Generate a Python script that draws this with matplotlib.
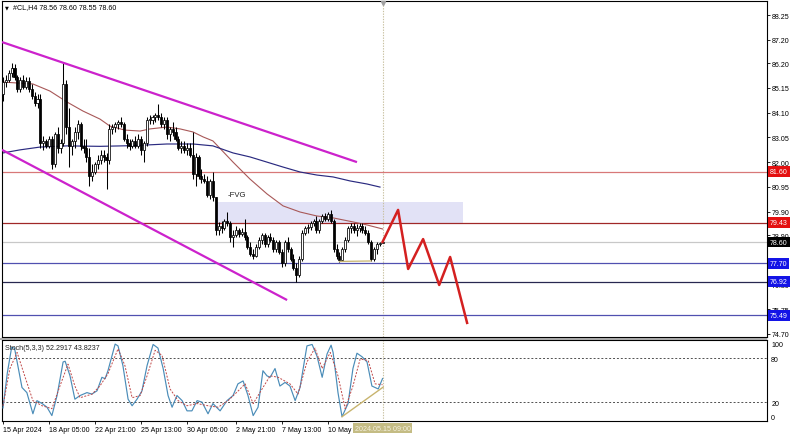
"""#CL H4 차트 재현 — 캔들 + 채널 + 스토캐스틱."""
import matplotlib
matplotlib.use("Agg")
import matplotlib.pyplot as plt
import matplotlib.transforms as mtrans
from matplotlib.patches import Rectangle
import numpy as np

plt.rcParams['font.family'] = ['Liberation Sans', 'DejaVu Sans']

# ── 데이터 (H4 캔들, 15 Apr 13:00 ~ 15 May 09:00) ─────────────
opens = [84.9, 85.4, 85.5, 85.8, 86.0, 85.6, 85.1, 85.5, 85.2, 85.45,
         85.1, 84.8, 84.5, 84.7, 82.8, 82.9, 82.7, 83.0, 81.9, 83.2,
         82.6, 82.8, 85.3, 83.5, 82.7, 82.9, 83.3, 83.6, 82.7, 82.6,
         82.2, 81.4, 81.6, 81.9, 82.1, 82.3, 82.2, 82.1, 83.4, 83.5,
         83.6, 83.7, 83.6, 83.0, 82.8, 82.7, 82.9, 82.7, 83.0, 82.5,
         82.8, 83.8, 83.8, 83.9, 84.0, 83.9, 83.6, 83.8, 83.2, 83.4,
         83.3, 83.0, 82.6, 82.7, 82.5, 82.6, 82.3, 81.5, 82.2, 81.4,
         81.3, 81.2, 80.6, 81.2, 80.5, 79.1, 79.3, 79.2, 79.5, 79.4,
         78.8, 78.9, 79.1, 78.95, 79.05, 78.8, 78.4, 78.1, 78.0, 78.4,
         78.7, 78.9, 78.5, 78.8, 78.7, 78.3, 78.6, 78.2, 77.7, 78.6,
         78.3, 77.9, 77.5, 77.2, 77.9, 79.0, 79.2, 79.25, 79.4, 79.5,
         79.1, 79.5, 79.7, 79.6, 79.8, 79.5, 78.3, 78.0, 77.85, 78.3,
         78.7, 79.2, 79.3, 79.1, 79.2, 79.3, 79.1, 79.0, 78.6, 77.9,
         78.3, 78.5, 78.56]
highs = [85.6, 85.7, 85.9, 86.2, 86.15, 85.7, 85.6, 85.7, 85.6, 85.6,
         85.3, 85.0, 84.9, 84.9, 83.1, 83.0, 83.1, 83.1, 83.3, 83.5,
         83.0, 86.25, 85.5, 84.3, 83.0, 83.5, 83.8, 83.7, 83.0, 83.0,
         82.6, 81.9, 82.0, 82.3, 82.5, 82.5, 82.4, 83.6, 83.6, 83.7,
         83.8, 83.9, 83.7, 83.2, 83.0, 83.0, 83.1, 83.2, 83.1, 82.9,
         83.9, 84.0, 84.0, 84.1, 84.45, 84.1, 83.9, 83.9, 83.5, 83.7,
         83.5, 83.1, 82.9, 82.9, 82.8, 82.8, 83.3, 82.4, 82.3, 81.7,
         81.5, 81.4, 81.3, 81.6, 80.5, 79.45, 79.5, 79.6, 79.9, 79.5,
         79.1, 79.3, 79.2, 79.2, 79.6, 78.9, 78.6, 78.3, 78.5, 78.8,
         79.0, 79.0, 78.9, 79.0, 78.8, 78.7, 78.7, 78.3, 78.7, 78.8,
         78.4, 78.1, 77.7, 78.0, 79.1, 79.3, 79.35, 79.5, 79.6, 79.7,
         79.6, 79.8, 79.85, 79.9, 79.95, 79.6, 78.5, 78.2, 78.4, 78.8,
         79.3, 79.4, 79.4, 79.35, 79.4, 79.4, 79.3, 79.1, 78.7, 78.4,
         78.6, 78.6, 78.60]
lows = [84.6, 85.2, 85.4, 85.6, 85.5, 85.0, 85.0, 85.1, 85.1, 85.0,
        84.7, 84.4, 84.3, 82.6, 82.5, 82.6, 82.6, 81.7, 81.8, 82.4,
        82.4, 82.7, 83.2, 81.8, 82.3, 82.6, 83.0, 82.5, 82.4, 82.0,
        81.0, 81.2, 81.5, 81.7, 81.9, 82.0, 80.85, 81.9, 83.2, 83.3,
        83.4, 83.5, 82.9, 82.6, 82.5, 82.6, 82.6, 82.6, 82.3, 82.0,
        82.7, 83.6, 83.6, 83.7, 83.8, 83.5, 83.4, 83.0, 82.9, 83.1,
        82.9, 82.5, 82.4, 82.4, 82.3, 82.2, 81.3, 81.0, 81.3, 81.1,
        81.1, 80.5, 80.45, 80.35, 78.9, 78.9, 79.0, 79.1, 79.3, 78.6,
        78.4, 78.8, 78.8, 78.85, 78.7, 78.3, 78.0, 77.9, 77.95, 78.3,
        78.5, 78.4, 78.4, 78.6, 78.2, 78.2, 78.1, 77.55, 77.6, 78.2,
        77.8, 77.4, 76.9, 77.1, 77.8, 78.9, 79.0, 79.1, 79.3, 79.0,
        79.0, 79.4, 79.5, 79.5, 79.4, 78.2, 77.9, 77.75, 77.8, 78.2,
        78.6, 79.0, 79.0, 78.85, 79.05, 79.0, 78.9, 78.5, 77.8, 77.8,
        78.1, 78.45, 78.55]
closes = [85.4, 85.5, 85.8, 86.0, 85.6, 85.1, 85.5, 85.2, 85.45, 85.1,
          84.8, 84.5, 84.7, 82.8, 82.9, 82.7, 83.0, 81.9, 83.2, 82.6,
          82.8, 85.3, 83.5, 82.7, 82.9, 83.3, 83.6, 82.7, 82.6, 82.2,
          81.4, 81.6, 81.9, 82.1, 82.3, 82.2, 82.1, 83.4, 83.5, 83.6,
          83.7, 83.6, 83.0, 82.8, 82.7, 82.9, 82.7, 83.0, 82.5, 82.8,
          83.8, 83.8, 83.9, 84.0, 83.9, 83.6, 83.8, 83.2, 83.4, 83.3,
          83.0, 82.6, 82.7, 82.5, 82.6, 82.3, 81.5, 82.2, 81.4, 81.3,
          81.2, 80.6, 81.2, 80.5, 79.1, 79.3, 79.2, 79.5, 79.4, 78.8,
          78.9, 79.1, 78.95, 79.05, 78.8, 78.4, 78.1, 78.0, 78.4, 78.7,
          78.9, 78.5, 78.8, 78.7, 78.3, 78.6, 78.2, 77.7, 78.6, 78.3,
          77.9, 77.5, 77.2, 77.9, 79.0, 79.2, 79.25, 79.4, 79.5, 79.1,
          79.5, 79.7, 79.6, 79.8, 79.5, 78.3, 78.0, 77.85, 78.3, 78.7,
          79.2, 79.3, 79.1, 79.2, 79.3, 79.1, 79.0, 78.6, 77.9, 78.3,
          78.5, 78.56, 78.60]

# 이동평균선 (그림에서 읽은 점: 봉 인덱스, 가격)
ma_fast_x = [0, 10.4, 16.3, 22.3, 27.8, 33.7, 37.2, 42.4, 47.7, 51.1, 57, 61.6, 66.1,
             69.6, 73, 80, 85.9, 91.8, 97.4, 103.3, 109.2, 114.8, 121.7, 126.6, 132]
ma_fast_y = [85.40, 85.32, 85.02, 84.55, 84.17, 83.83, 83.53, 83.36, 83.32, 83.41, 83.49,
             83.41, 83.28, 83.07, 82.90, 82.0, 81.28, 80.65, 80.14, 79.88, 79.71, 79.63,
             79.46, 79.33, 79.16]
ma_slow_x = [0, 5.9, 12.9, 22.3, 33.7, 45.2, 57, 66.1, 73, 80, 85.9, 91.8, 97.4, 103.3,
             109.2, 114.8, 120.7, 126.6, 131.1]
ma_slow_y = [82.39, 82.52, 82.64, 82.69, 82.67, 82.70, 82.77, 82.77, 82.69, 82.39, 82.22,
             82.0, 81.79, 81.58, 81.45, 81.37, 81.20, 81.07, 80.94]

# 채널, 수평선, 예상 경로
chan_upper = ([-0.35, 123.1], [87.10, 82.00])
chan_lower = ([-0.35, 98.8], [82.52, 76.14])
levels = [81.60, 79.43, 78.60, 77.70, 76.92, 75.49]
level_line_colors = ['#d87878', '#a02828', '#c8c8c8', '#5050b0', '#282850', '#5050b0']
level_tag_colors = ['#e41010', '#e41010', '#000000', '#1414e6', '#1414e6', '#1414e6']
path_x = [132, 137.4, 140.9, 146.1, 151.7, 155.5, 161.4]
path_y = [78.61, 79.97, 77.46, 78.73, 76.78, 77.97, 75.17]
fvg_x = (74, 160)
fvg_y = (79.41, 80.30)

price_ticks = [88.25, 87.20, 86.20, 85.15, 84.10, 83.05, 82.00, 80.95, 79.90,
               78.90, 77.85, 76.80, 75.75, 74.70]

# 스토캐스틱 (5,3,3)
stoch_k_x = [0, 1.5, 3, 4, 6.6, 8.3, 10.4, 11.8, 13.6, 15.3, 17, 18.8, 20.9, 21.6, 23.3,
             25, 26.8, 29.2, 30.9, 32.7, 34.4, 35.5, 36.5, 39, 40, 41.7, 43.5, 44.9, 46.6,
             48.3, 50.1, 52.2, 53.9, 55.7, 57.4, 58.8, 60.5, 62.3, 64, 65.7, 67.5, 69.2,
             71.3, 73, 75.5, 77.9, 80, 81.7, 83.5, 85.2, 87, 88.7, 90.4, 91.8, 92.9, 94.6,
             96.3, 98.1, 99.8, 101.6, 103.3, 105.7, 107.5, 109.2, 111, 112.7, 114.1, 114.8,
             116.5, 117.9, 120, 121.7, 123.1, 124.9, 126.6, 128.3, 130.5, 132]
stoch_k_y = [12, 60, 95, 94, 40, 33, 4, 22, 18, 13, 1.5, 29, 75, 76, 56,
             24, 29, 33, 31, 35.5, 54, 52, 63, 99.5, 97, 70, 24, 15, 24,
             35, 70, 99, 94, 66, 29, 13, 29, 22, 8, 8, 22, 20,
             4, 18, 8, 22, 29, 45, 49, 29, 1.5, 13, 63, 56, 54, 66,
             42, 47, 42, 22, 40, 97, 99, 83, 54, 86, 98, 88,
             33, 0, 18, 66, 87, 82, 75, 42, 38, 52.29]
stoch_d_x = [0, 2.4, 4.9, 7.7, 10.4, 13.6, 17, 19.8, 22.6, 25, 26.8, 31, 33.7, 36.5, 40,
             42.4, 44.9, 47.7, 50.1, 52.9, 55.3, 58.1, 60.9, 64, 67.5, 71.3, 74.8, 78.3,
             81.7, 84.2, 87, 90.1, 92.9, 95.7, 99.8, 102.6, 105.7, 108.5, 111, 113.8,
             116.5, 119, 121.7, 124.2, 127, 129.4, 132]
stoch_d_y = [15, 66, 88, 54, 22, 15, 11, 42, 72, 42, 26, 31, 42, 59, 93,
             70, 26, 29, 56, 91, 84, 38, 22, 15, 18, 15, 13, 22,
             35, 45, 18, 38, 56, 54, 45, 31, 75, 94, 66, 88,
             56, 11, 42, 79, 77, 45, 43.82]
div_stoch = ([117.9, 132.2], [0, 40.5])
div_price = ([117, 128], [77.78, 77.80])

date_idx = [0, 16, 32, 48, 64, 81, 97, 113]
date_labels = ['15 Apr 2024', '18 Apr 05:00', '22 Apr 21:00', '25 Apr 13:00',
               '30 Apr 05:00', '2 May 21:00', '7 May 13:00', '10 May 05:00']
cursor_idx = 132
cursor_label = '2024.05.15 09:00'

# ── Figure ──────────────────────────────────────────────────
W, H = 800, 439
fig = plt.figure(figsize=(W / 100, H / 100), dpi=100)
ax = fig.add_axes([2 / W, 1 - 338 / H, 765 / W, 336 / H])
ax2 = fig.add_axes([2 / W, 1 - 422 / H, 765 / W, 81 / H])
fs = 5.1
xlim = (-0.35, 265.7)

# 캔들
idx = np.arange(len(closes))
o = np.array(opens); c = np.array(closes)
ax.vlines(idx, lows, highs, color='black', linewidth=0.75, zorder=3)
bull = c >= o
body_h = np.maximum(np.abs(c - o), 0.02)
ax.bar(idx, body_h, bottom=np.minimum(o, c), width=0.72,
       color=np.where(bull, 'white', 'black'), edgecolor='black', linewidth=0.55, zorder=4)

# 이동평균
ax.plot(ma_fast_x, ma_fast_y, color='#a85858', linewidth=0.8, zorder=2)
ax.plot(ma_slow_x, ma_slow_y, color='#2a2a80', linewidth=0.85, zorder=2)

# FVG 박스
ax.add_patch(Rectangle((fvg_x[0], fvg_y[0]), fvg_x[1] - fvg_x[0], fvg_y[1] - fvg_y[0],
                       facecolor='#e2e2f6', edgecolor='none', zorder=1))
ax.text(78, 80.62, '-FVG', fontsize=5.6, color='#202020', va='center', ha='left')

# 수평선
for lv, lc in zip(levels, level_line_colors):
    ax.axhline(lv, color=lc, linewidth=0.9, zorder=1.5)

# 채널
ax.plot(*chan_upper, color='#cc22cc', linewidth=1.6, zorder=5, solid_capstyle='butt')
ax.plot(*chan_lower, color='#cc22cc', linewidth=1.6, zorder=5, solid_capstyle='butt')

# 예상 경로
ax.plot(path_x, path_y, color='#d42020', linewidth=1.8, zorder=6)
ax.plot(*div_price, color='#c8b46e', linewidth=0.9, zorder=5)

# 세로 점선
for a in (ax, ax2):
    a.axvline(cursor_idx, color='#c8c0a0', linewidth=0.8, linestyle=(0, (1.2, 1.2)), zorder=1)
ax.plot(cursor_idx, 88.75, marker='v', color='#a0a0a0', markersize=3, clip_on=False, zorder=7)

ax.set_xlim(*xlim)
ax.set_ylim(74.57, 88.845)
ax.set_xticks([])
ax.yaxis.tick_right()
ax.set_yticks(price_ticks)
ax.set_yticklabels([f'{t:.2f}' for t in price_ticks])
ax.tick_params(axis='y', direction='out', length=2.5, width=0.6, labelsize=fs, pad=1)

# 가격 태그
tr = mtrans.blended_transform_factory(ax.transAxes, ax.transData)
for lv, tc in zip(levels, level_tag_colors):
    ax.text(1.004, lv, f'{lv:.2f}', transform=tr, fontsize=fs, color='white',
            ha='left', va='center', clip_on=False, zorder=8,
            bbox=dict(boxstyle='square,pad=0.25', facecolor=tc, edgecolor='none'))

# ── 스토캐스틱 ─────────────────────────────────────────────
ax2.axhline(80, color='#505050', linewidth=0.7, linestyle=(0, (2, 2)))
ax2.axhline(20, color='#505050', linewidth=0.7, linestyle=(0, (2, 2)))
ax2.plot(stoch_k_x, stoch_k_y, color='#4a8cb8', linewidth=0.85, zorder=3)
ax2.plot(stoch_d_x, stoch_d_y, color='#c04848', linewidth=0.7, linestyle=(0, (2, 1.5)), zorder=3)
ax2.plot(*div_stoch, color='#c8b46e', linewidth=1.0, zorder=4)
ax2.set_xlim(*xlim)
ax2.set_ylim(-5.9, 105.1)
ax2.yaxis.tick_right()
ax2.set_yticks([100, 80, 20, 0])
ax2.set_yticklabels(['100', '80', '20', '0'])
ax2.tick_params(axis='y', length=0, labelsize=fs, pad=3)
ax2.set_xticks(date_idx)
ax2.set_xticklabels(date_labels, ha='left')
ax2.tick_params(axis='x', direction='out', length=2, width=0.6, labelsize=fs, pad=1.5)
ax2.text(0.004, 0.95, 'Stoch(5,3,3) 52.2917 43.8237', transform=ax2.transAxes,
         fontsize=fs, color='#202020', ha='left', va='top')
tr2 = mtrans.blended_transform_factory(ax2.transData, ax2.transAxes)
ax2.text(cursor_idx, -0.088, cursor_label, transform=tr2, fontsize=fs, color='#f4f0e0',
         ha='center', va='center', clip_on=False, zorder=8,
         bbox=dict(boxstyle='square,pad=0.2', facecolor='#c4bc84', edgecolor='none'))

for a in (ax, ax2):
    for s in a.spines.values():
        s.set_linewidth(0.8)
        s.set_color('black')

# 패널 구분선 & 제목
fig.patches.append(Rectangle((0, 1 - 341 / H), 767 / W, 2.5 / H, transform=fig.transFigure,
                             facecolor='#a8a8a8', edgecolor='none'))
fig.text(5 / W, 1 - 8 / H, '\u25bc', fontsize=3.6, color='black', va='center', ha='left',
         family=['DejaVu Sans'])
fig.text(13 / W, 1 - 8 / H, '#CL,H4 78.56 78.60 78.55 78.60', fontsize=fs,
         color='black', va='center', ha='left')

plt.savefig('out.png', dpi=100)
plt.close()
print('Saved: out.png')
